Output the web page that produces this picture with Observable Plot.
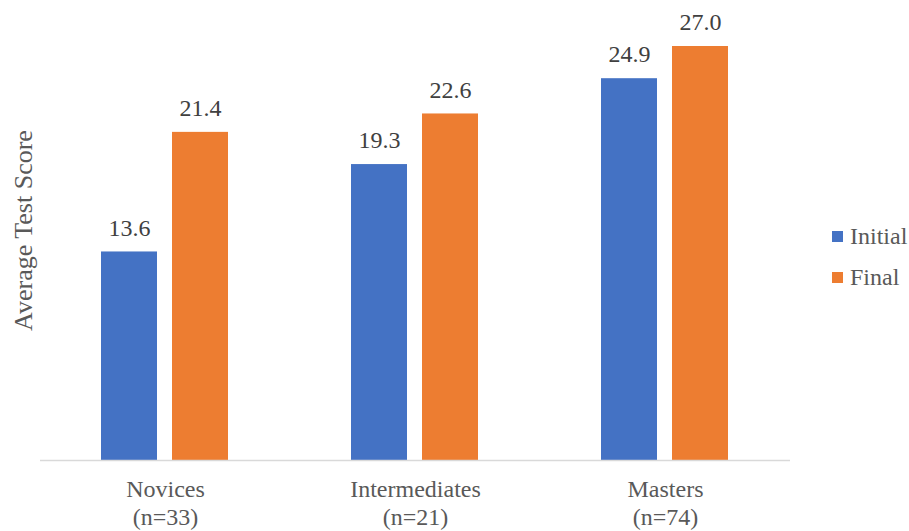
<!DOCTYPE html>
<html>
<head>
<meta charset="utf-8">
<script src="https://cdn.jsdelivr.net/npm/d3@7"></script>
<script src="https://cdn.jsdelivr.net/npm/@observablehq/plot@0.6"></script>
<style>
  html, body { margin: 0; padding: 0; background: #fff; }
  #wrap { position: relative; width: 909px; height: 531px; overflow: hidden; }
  #legend { position: absolute; left: 832px; top: 224px; font-size: 24px; color: #595959; }
  #legend .item { display: flex; align-items: center; height: 24px; line-height: 24px; margin-bottom: 17px; }
  #legend .swatch { width: 11px; height: 11px; margin-right: 7px; }
</style>
</head>
<body>
<div id="wrap"><div id="legend" style="font-family: 'Liberation Serif', serif;"></div></div>
<script>
// Groups, their sample sizes and the two test rounds
const categories = ["Novices", "Intermediates", "Masters"];
const counts = [33, 21, 74];
const series = ["Initial", "Final"];
const initialScores = [13.6, 19.3, 24.9];
const finalScores = [21.4, 22.6, 27.0];
const colors = ["#4472C4", "#ED7D31"];

const serif = "Liberation Serif";

const rows = categories.flatMap((group, i) => [
  {group, series: "Initial", value: initialScores[i]},
  {group, series: "Final", value: finalScores[i]}
]);

const fmt = d3.format(".1f");

const chart = Plot.plot({
  width: 909,
  height: 531,
  marginLeft: 40,
  marginRight: 119,
  marginTop: 0,
  marginBottom: 71,
  style: {fontFamily: `"${serif}", serif`, fontSize: "24px", color: "#595959", background: "#fff", overflow: "visible"},
  fx: {domain: categories, padding: 0, label: null},
  x: {domain: series, paddingInner: 0.21, paddingOuter: 0.853, axis: null},
  y: {domain: [0, 30], axis: null},
  color: {domain: series, range: colors},
  marks: [
    Plot.barY(rows, {fx: "group", x: "series", y: "value", fill: "series"}),
    Plot.ruleY([0], {stroke: "#D9D9D9", strokeWidth: 1.3}),
    Plot.text(rows, {
      fx: "group", x: "series", y: "value",
      text: d => fmt(d.value),
      dy: -24, lineAnchor: "middle",
      fill: "#404040", fontSize: 24, fontFamily: serif
    }),
    Plot.axisFx({
      anchor: "bottom",
      tickSize: 0,
      tickPadding: 16,
      lineHeight: 1.18,
      fontSize: 24,
      fontFamily: serif,
      fill: "#595959",
      label: null,
      tickFormat: g => `${g}\n(n=${counts[categories.indexOf(g)]})`
    }),
    Plot.axisY({
      ticks: [],
      tickSize: 0,
      label: "Average Test Score",
      labelAnchor: "center",
      labelArrow: "none",
      labelOffset: 27,
      fontSize: 26,
      fontFamily: serif,
      fill: "#595959"
    })
  ]
});

document.getElementById("wrap").prepend(chart);

// Legend on the right
const legend = document.getElementById("legend");
series.forEach((s, i) => {
  const item = document.createElement("div");
  item.className = "item";
  item.innerHTML = `<span class="swatch" style="background:${colors[i]}"></span><span>${s}</span>`;
  legend.appendChild(item);
});
</script>
</body>
</html>
